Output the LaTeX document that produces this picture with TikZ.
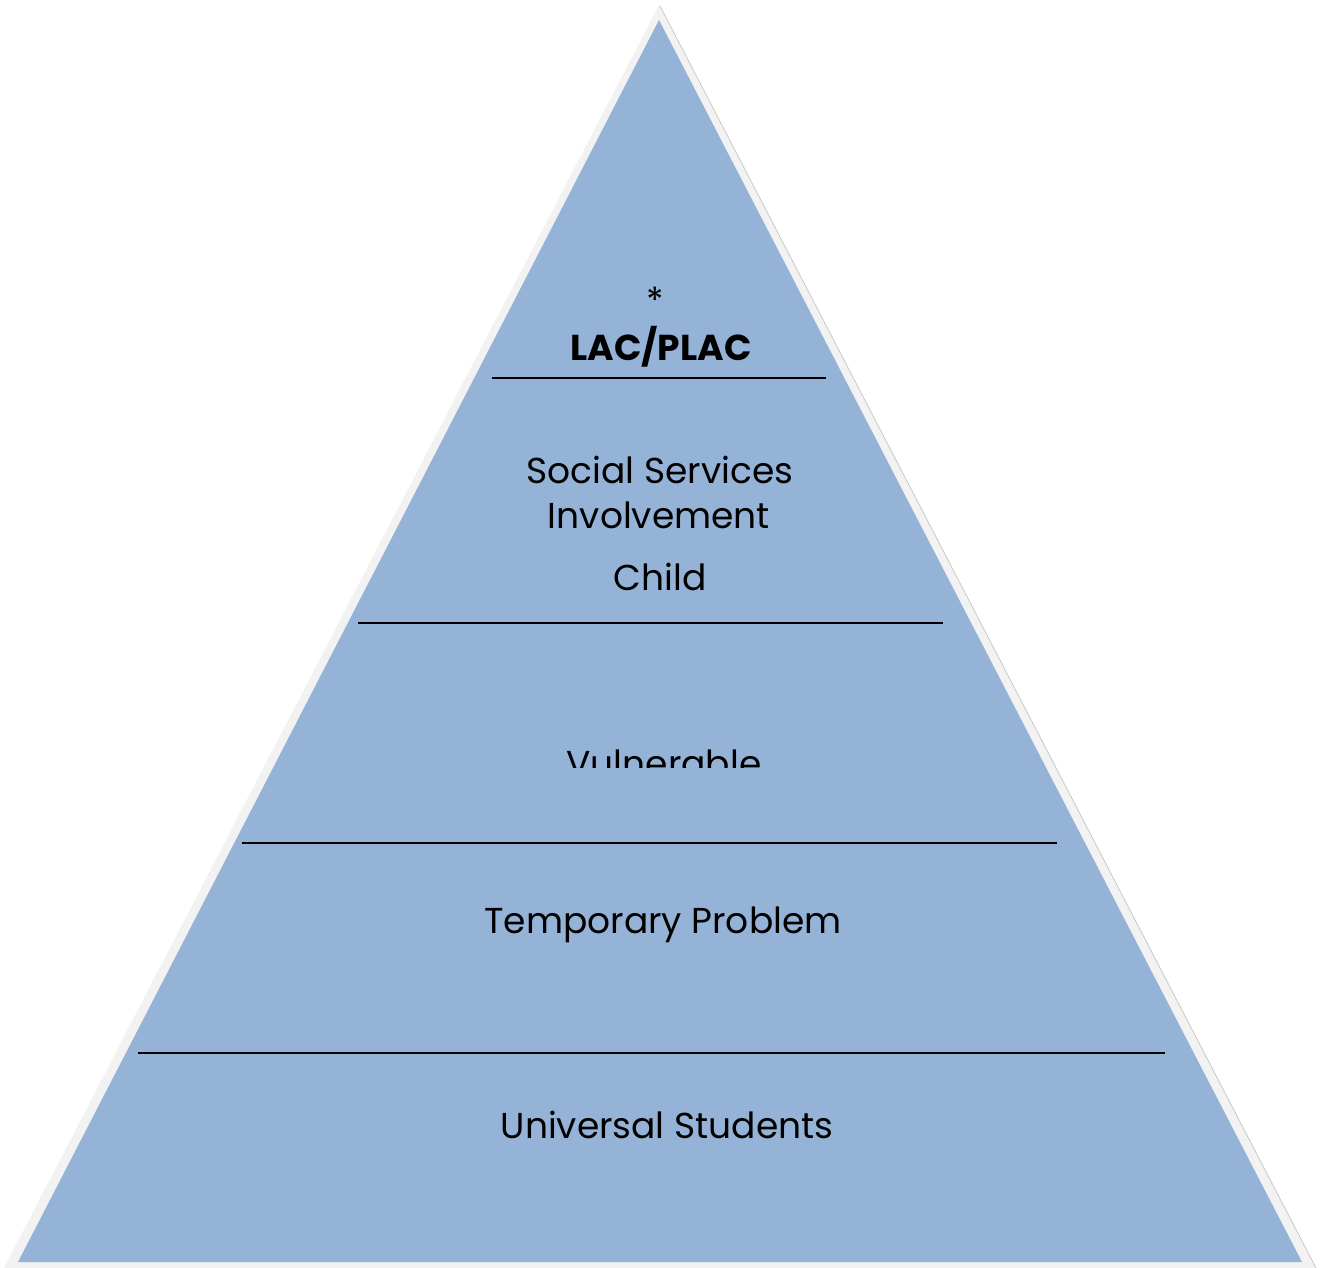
\documentclass[tikz,border=0pt]{standalone}
\usepackage{fontspec}
\setmainfont{Poppins}
\usepackage{tikz}

\definecolor{pyrblue}{RGB}{149,179,215}
\definecolor{pyrshadow}{RGB}{242,242,242}

\begin{document}
\begin{tikzpicture}[x=1pt,y=1pt,yscale=-1,
  tiertext/.style={anchor=base,inner sep=0.75pt,font=\fontsize{36}{42}\selectfont,color=black}]
\useasboundingbox (0,0) rectangle (1322,1268);

%Shadow Triangle
\fill [color=pyrshadow] (659,5) -- (4,1268) -- (1316,1268) -- cycle ;
\draw [color={rgb, 255:red, 200; green, 200; blue, 200 }, line width=0.8] (660,6) -- (1316,1268) ;
%Pyramid Triangle
\fill [color=pyrblue] (659,20) -- (18,1262) -- (1302,1262) -- cycle ;

%Straight Lines
\draw [line width=2.2]   (492,378) -- (826,378) ;
%Straight Lines
\draw [line width=2.2]   (358,623) -- (943,623) ;
%Straight Lines
\draw [line width=2.2]   (242,843) -- (1057,843) ;
%Straight Lines
\draw [line width=2.2]   (138,1053) -- (1165,1053) ;

% Text Node
\node (star) at (655,300) [tiertext, anchor=center] {*};
% Text Node
\node (lac) at (661,360) [tiertext] {\bfseries LAC/PLAC};
% Text Node
\node (social) at (660,483) [tiertext] {Social Services};
% Text Node
\node (involve) at (659,528) [tiertext] {Involvement};
% Text Node
\node (child) at (660,590) [tiertext] {Child};
% Text Node (cut off at the bottom)
\begin{scope}
\clip (500,700) rectangle (830,767);
\node (vulner) at (664,776) [tiertext] {Vulnerable};
\end{scope}
% Text Node
\node (temp) at (663,933) [tiertext] {Temporary Problem};
% Text Node
\node (univ) at (667,1138) [tiertext] {Universal Students};

\end{tikzpicture}
\end{document}
